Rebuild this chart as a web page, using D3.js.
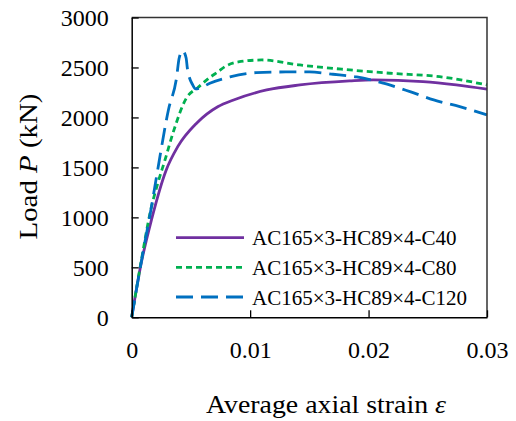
<!DOCTYPE html>
<html><head><meta charset="utf-8">
<script src="https://cdn.jsdelivr.net/npm/d3@7"></script>
<style>
html,body{margin:0;padding:0;background:#fff;}
svg{display:block;font-family:"Liberation Serif","Times New Roman",serif;}
</style></head>
<body>
<svg id="chart" width="516" height="421"></svg>
<script>
// ---- data ----
const seriesNames = ["AC165×3-HC89×4-C40","AC165×3-HC89×4-C80","AC165×3-HC89×4-C120"];
const seriesColors = ["#7030A0","#00B050","#0070C0"];
const seriesDash = [null,"6,4","17,8"];

const strainC40 = [0,0.0008,0.0017,0.0029,0.0039,0.0055,0.0073,0.0086,0.0114,0.0142,0.0184,0.0204,0.0246,0.0274,0.030];
const loadC40   = [0,540,990,1470,1710,1945,2110,2175,2275,2325,2365,2375,2358,2325,2282];

const strainC80 = [0,0.0008,0.0016,0.0022,0.0028,0.0035,0.0046,0.0056,0.0066,0.0073,0.0079,0.009,0.011,0.0142,0.0178,0.0218,0.026,0.030];
const loadC80   = [0,560,1070,1340,1570,1850,2190,2300,2400,2458,2510,2555,2575,2525,2482,2442,2408,2325];

const strainC120 = [0,0.001,0.0016,0.0022,0.0031,0.0038,0.0040,0.0043,0.0046,0.0047,0.00515,0.0054,0.0058,0.0066,0.0083,0.0105,0.013,0.015,0.017,0.019,0.0215,0.0235,0.0255,0.0277,0.030];
const loadC120   = [0,680,1060,1480,2075,2408,2590,2669,2592,2492,2325,2285,2295,2342,2405,2448,2455,2455,2432,2405,2335,2258,2175,2108,2025];

const xTicks = [0,0.01,0.02,0.03];
const xTickLabels = ["0","0.01","0.02","0.03"];
const yTicks = [0,500,1000,1500,2000,2500,3000];

// ---- layout ----
const L = 131.7, R = 487, T = 17.5, B = 317.3;
const svg = d3.select("#chart");
const x = d3.scaleLinear().domain([0,0.03]).range([L,R]);
const y = d3.scaleLinear().domain([0,3000]).range([B,T]);

const series = [
  {name:seriesNames[0], color:seriesColors[0], dash:seriesDash[0], pts:strainC40.map((s,i)=>[s,loadC40[i]])},
  {name:seriesNames[1], color:seriesColors[1], dash:seriesDash[1], pts:strainC80.map((s,i)=>[s,loadC80[i]])},
  {name:seriesNames[2], color:seriesColors[2], dash:seriesDash[2], pts:strainC120.map((s,i)=>[s,loadC120[i]])}
];

const line = d3.line().x(d=>x(d[0])).y(d=>y(d[1])).curve(d3.curveMonotoneX);

// lines
const gl = svg.append("g");
series.forEach(s=>{
  gl.append("path").attr("d",line(s.pts)).attr("fill","none")
    .attr("stroke",s.color).attr("stroke-width",2.8)
    .attr("stroke-dasharray",s.dash);
});

// frame (top/right)
svg.append("path").attr("d",`M${L},${T}H${R}V${B}`).attr("fill","none").attr("stroke","#333").attr("stroke-width",1.5);

// axes
const xAxis = d3.axisBottom(x).tickValues(xTicks).tickFormat((d,i)=>xTickLabels[i])
  .tickSizeInner(-7).tickSizeOuter(0).tickPadding(26);
const gx = svg.append("g").attr("transform",`translate(0,${B})`).call(xAxis);
const yAxis = d3.axisLeft(y).tickValues(yTicks).tickFormat(d3.format("d"))
  .tickSizeInner(-7).tickSizeOuter(0).tickPadding(23);
const gy = svg.append("g").attr("transform",`translate(${L},0)`).call(yAxis);
[gx,gy].forEach(g=>{
  g.select(".domain").attr("stroke","#000").attr("stroke-width",1.5);
  g.selectAll(".tick line").attr("stroke","#000").attr("stroke-width",1.3);
  g.selectAll(".tick text").attr("fill","#000").attr("font-size",24)
   .attr("font-family","Liberation Serif, Times New Roman, serif");
});
gx.selectAll(".tick text").attr("dy","0.6em");
gy.selectAll(".tick text").attr("dy","0.34em");

// axis titles
svg.append("text").attr("x",326).attr("y",413).attr("text-anchor","middle")
  .attr("font-size",26).attr("fill","#000")
  .attr("textLength",240).attr("lengthAdjust","spacingAndGlyphs")
  .html('Average axial strain <tspan font-style="italic">ε</tspan>');
svg.append("text").attr("transform",`translate(37,166.5) rotate(-90)`)
  .attr("text-anchor","middle").attr("font-size",26).attr("fill","#000")
  .attr("textLength",146).attr("lengthAdjust","spacingAndGlyphs")
  .html('Load <tspan font-style="italic">P</tspan> (kN)');

// legend
const legY = [237.7,267.3,297];
series.forEach((s,i)=>{
  svg.append("line").attr("x1",176).attr("x2",244).attr("y1",legY[i]).attr("y2",legY[i])
    .attr("stroke",s.color).attr("stroke-width",2.8).attr("stroke-dasharray",s.dash);
  svg.append("text").attr("x",252).attr("y",legY[i]+7.5).attr("font-size",21).attr("fill","#000")
    .text(s.name);
});
</script>
</body></html>
